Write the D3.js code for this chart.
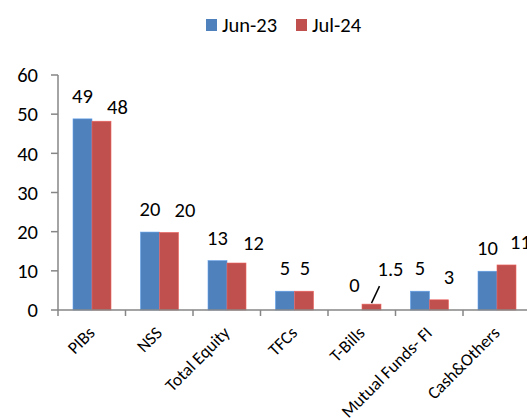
<!DOCTYPE html>
<html><head><meta charset="utf-8">
<script src="https://cdn.jsdelivr.net/npm/d3@7"></script>
<style>
html,body{margin:0;padding:0;background:#fff;}
svg{display:block;font-family:Carlito, Calibri, Lato, sans-serif;}
</style></head>
<body>
<svg id="chart" width="527" height="418"></svg>
<script>
const categories = ["PIBs","NSS","Total Equity","TFCs","T-Bills","Mutual Funds- FI","Cash&Others"];
const seriesNames = ["Jun-23","Jul-24"];
const jun23 = [48.8, 19.9, 12.6, 4.8, 0, 4.8, 9.9];
const jul24 = [48.2, 19.8, 12.0, 4.8, 1.5, 2.6, 11.5];
const jun23Labels = ["49","20","13","5","0","5","10"];
const jul24Labels = ["48","20","12","5","1.5","3","11"];
const yTicks = [0,10,20,30,40,50,60];
const colors = ["#4F81BD","#C0504D"];

const svg = d3.select("#chart");
const axisColor = "#868686";
const x0 = 58, bandW = 67.5;
const x = d3.scaleBand().domain(categories.concat(["_"])).range([x0, x0 + bandW*8]).padding(0);
const xs = d3.scaleBand().domain(seriesNames).range([15, 53]).padding(0);
const y = d3.scaleLinear().domain([0,60]).range([310,75]);

const series = [jun23, jul24];
const labels = [jun23Labels, jul24Labels];
const numFont = 20.5, catFont = 17.5;

// bars
series.forEach((vals, si) => {
  svg.append("g").selectAll("rect").data(vals).join("rect")
    .attr("x", (d,i) => x(categories[i]) + xs(seriesNames[si]))
    .attr("y", d => y(d))
    .attr("width", xs.bandwidth())
    .attr("height", d => y(0) - y(d))
    .attr("fill", colors[si])
    .attr("stroke", d3.color(colors[si]).brighter(0.6))
    .attr("stroke-width", 0.6);
});

// y axis
const ya = svg.append("g");
ya.append("line").attr("x1",x0).attr("x2",x0).attr("y1",y(60)).attr("y2",y(0)).attr("stroke",axisColor).attr("stroke-width",1.5);
ya.selectAll("line.t").data(yTicks).join("line").attr("class","t")
  .attr("x1",x0-7).attr("x2",x0).attr("y1",d=>y(d)).attr("y2",d=>y(d)).attr("stroke",axisColor).attr("stroke-width",1.5);
ya.selectAll("text").data(yTicks).join("text")
  .attr("x",38).attr("y",d=>y(d)).attr("dy","0.35em").attr("text-anchor","end")
  .attr("font-size",numFont).attr("fill","#000").text(d=>d);

// x axis
const xa = svg.append("g");
xa.append("line").attr("x1",x0).attr("x2",527).attr("y1",y(0)).attr("y2",y(0)).attr("stroke",axisColor).attr("stroke-width",1.5);
const bounds = d3.range(8).map(i => x0 + i*bandW);
xa.selectAll("line.t").data(bounds).join("line").attr("class","t")
  .attr("x1",d=>d).attr("x2",d=>d).attr("y1",y(0)).attr("y2",y(0)+6).attr("stroke",axisColor).attr("stroke-width",1.5);
xa.selectAll("text").data(categories).join("text")
  .attr("transform", d => `translate(${x(d)+bandW/2+4},${y(0)+24}) rotate(-45)`)
  .attr("text-anchor","end").attr("font-size",catFont).attr("fill","#000").text(d=>d);

// data labels
const nudge = [
  [[0,0],[0,0],[0,0],[0,0],[2,-2],[0,0],[0,0]],
  [[6,9],[6,0],[7,3],[-9,0],[9,-12],[0,0],[4,0]]
];
labels.forEach((labs, si) => {
  const bx = i => x(categories[i]) + xs(seriesNames[si]) + xs.bandwidth()/2;
  svg.append("g").selectAll("text").data(labs).join("text")
    .attr("x",(d,i)=> bx(i) + (si===1?10:0) + nudge[si][i][0])
    .attr("y",(d,i)=> y(series[si][i]) - 23 + nudge[si][i][1])
    .attr("dy","0.35em").attr("text-anchor","middle")
    .attr("font-size",numFont).attr("fill","#000").text(d=>d);
});
// leader line for T-Bills Jul-24
{
  const i = categories.indexOf("T-Bills");
  const bx = x(categories[i]) + xs("Jul-24") + xs.bandwidth()/2;
  svg.append("line").attr("x1",bx).attr("y1",y(jul24[i])-1).attr("x2",bx+8).attr("y2",y(jul24[i])-18)
    .attr("stroke","#000").attr("stroke-width",1.5);
}

// legend
const lg = svg.append("g");
const lx = [206, 296];
seriesNames.forEach((s, si) => {
  lg.append("rect").attr("x",lx[si]).attr("y",19).attr("width",11).attr("height",12).attr("fill",colors[si]);
  lg.append("text").attr("x",lx[si]+16).attr("y",25).attr("dy","0.35em").attr("font-size",numFont).attr("fill","#000").text(s);
});
</script>
</body></html>
